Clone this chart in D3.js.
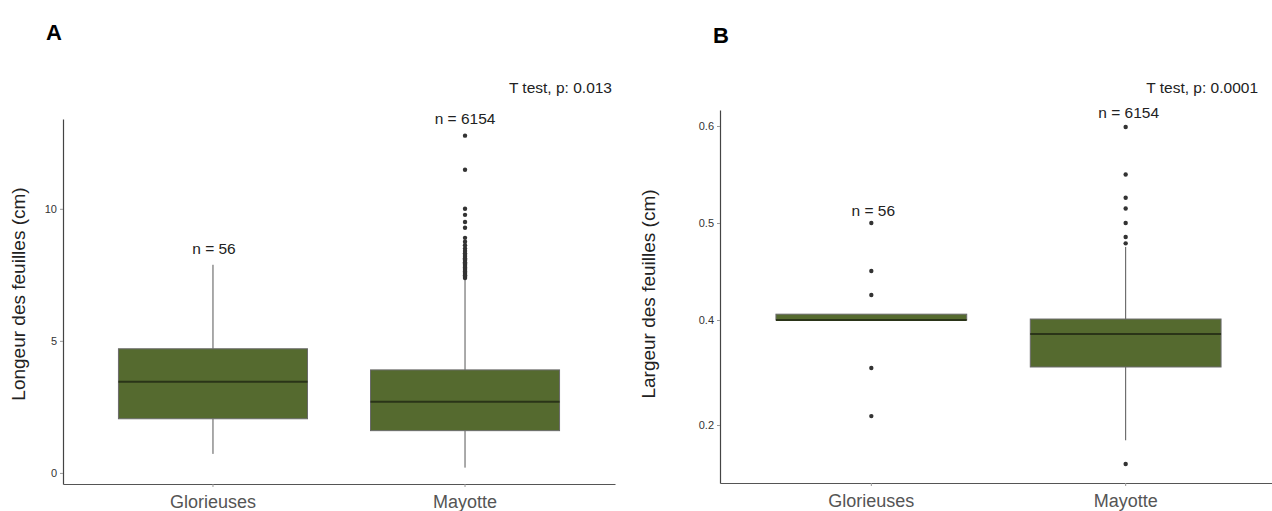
<!DOCTYPE html>
<html><head><meta charset="utf-8">
<script src="https://cdn.jsdelivr.net/npm/d3@7"></script>
<style>body{margin:0;background:#fff}svg{display:block}text{font-family:"Liberation Sans",Arial,sans-serif}</style>
</head><body><svg id="c" width="1272" height="511"></svg>
<script>
// ---- Data ----
const categories = ["Glorieuses", "Mayotte"];
// Panel A : longueur (cm)  [lowerWhisker, q1, median, q3, upperWhisker]
const lengthStats = [[0.72, 2.05, 3.45, 4.70, 7.88], [0.20, 1.60, 2.69, 3.90, 7.32]];
const lengthOutliersGlorieuses = [];
const lengthOutliersMayotte = [7.38, 7.43, 7.48, 7.53, 7.58, 7.63, 7.68, 7.73, 7.78, 7.83, 7.88, 7.93, 7.98, 8.03, 8.08, 8.13, 8.18, 8.25, 8.32, 8.40, 8.50, 8.62, 8.75, 8.90, 9.28, 9.50, 9.77, 10.0, 11.48, 12.77];
const lengthCounts = ["n = 56", "n = 6154"];
const lengthTicks = [0, 5, 10];
const lengthTest = "T test, p: 0.013";
// Panel B : largeur (cm)
const widthStats = [[0.400, 0.400, 0.400, 0.406, 0.406], [0.171, 0.3105, 0.3733, 0.401, 0.4753]];
const widthOutliersGlorieuses = [0.500, 0.4505, 0.4258, 0.3086, 0.217];
const widthOutliersMayotte = [0.599, 0.550, 0.526, 0.515, 0.500, 0.4856, 0.479, 0.126];
const widthCounts = ["n = 56", "n = 6154"];
const widthTicks = [0.2, 0.4, 0.5, 0.6];
const widthTest = "T test, p: 0.0001";

const svg = d3.select("#c");
const FILL = "#556a2f";

function panel(cfg) {
  const g = svg.append("g");
  const x = d3.scaleBand().domain(categories).range(cfg.xr).paddingInner(0.25).paddingOuter(0.22);
  const y = cfg.y;
  // axes
  const ya = g.append("g").attr("transform", `translate(${cfg.xr[0]},0)`)
    .call(d3.axisLeft(y).tickValues(cfg.ticks).tickSize(3).tickSizeOuter(0).tickFormat(cfg.fmt));
  ya.select(".domain").attr("stroke", "#444").attr("stroke-width", 1.2);
  ya.selectAll(".tick line").attr("stroke", "#999");
  ya.selectAll(".tick text").attr("font-size", 11).attr("fill", "#333").attr("font-family", "Liberation Sans, Arial, sans-serif");
  const xa = g.append("g").attr("transform", `translate(0,${cfg.y0})`)
    .call(d3.axisBottom(x).tickSize(3).tickSizeOuter(0));
  xa.select(".domain").attr("stroke", "#555").attr("stroke-width", 1.2);
  xa.selectAll(".tick line").attr("stroke", "#999");
  xa.selectAll(".tick text").attr("font-size", 18).attr("fill", "#555").attr("y", 10).attr("dy", "0.8em")
    .attr("font-family", "Liberation Sans, Arial, sans-serif");
  // boxes
  const bw = x.bandwidth();
  cfg.stats.forEach((s, i) => {
    const cx = x(categories[i]) + bw / 2;
    g.append("line").attr("x1", cx).attr("x2", cx).attr("y1", y(s[4])).attr("y2", y(s[3])).attr("stroke", "#555").attr("stroke-width", 1);
    g.append("line").attr("x1", cx).attr("x2", cx).attr("y1", y(s[1])).attr("y2", y(s[0])).attr("stroke", "#555").attr("stroke-width", 1);
    g.append("rect").attr("x", x(categories[i])).attr("width", bw)
      .attr("y", y(s[3])).attr("height", Math.max(1, y(s[1]) - y(s[3])))
      .attr("fill", FILL).attr("stroke", "#6a6a6a").attr("stroke-width", 1);
    g.append("line").attr("x1", x(categories[i])).attr("x2", x(categories[i]) + bw)
      .attr("y1", y(s[2])).attr("y2", y(s[2])).attr("stroke", "#2a3418").attr("stroke-width", 2);
    g.selectAll(null).data(cfg.outliers[i]).join("circle")
      .attr("cx", cx).attr("cy", d => y(d)).attr("r", 2.2).attr("fill", "#333");
    g.append("text").attr("x", cx + cfg.nOff[i][0]).attr("y", cfg.nY[i]).attr("text-anchor", "middle")
      .attr("font-size", 15.5).attr("fill", "#222").text(cfg.counts[i]);
  });
  g.append("text").attr("x", cfg.testX).attr("y", cfg.testY).attr("text-anchor", "end")
    .attr("font-size", 15.5).attr("fill", "#222").text(cfg.test);
  g.append("text").attr("transform", `translate(${cfg.titleX},${cfg.titleY}) rotate(-90)`)
    .attr("text-anchor", "middle").attr("font-size", 19).attr("fill", "#222").text(cfg.title);
  g.append("text").attr("x", cfg.lab[0]).attr("y", cfg.lab[1]).attr("font-size", 22)
    .attr("font-weight", "bold").attr("fill", "#000").text(cfg.label);
}

panel({
  xr: [63, 615], y0: 484,
  y: d3.scaleLinear().domain([-0.42, 13.4]).range([484, 119]),
  ticks: lengthTicks, fmt: d3.format("d"),
  stats: lengthStats, outliers: [lengthOutliersGlorieuses, lengthOutliersMayotte],
  counts: lengthCounts, nY: [254, 124], nOff: [[1, 0], [0, 0]],
  test: lengthTest, testX: 612, testY: 93,
  title: "Longeur des feuilles (cm)", titleX: 25, titleY: 294,
  label: "A", lab: [46, 40]
});
panel({
  xr: [720, 1277], y0: 483,
  y: d3.scaleLinear().domain([0.09, 0.2, 0.4, 0.6, 0.6165]).range([483, 425, 320, 126, 110]),
  ticks: widthTicks, fmt: d3.format(".1f"),
  stats: widthStats, outliers: [widthOutliersGlorieuses, widthOutliersMayotte],
  counts: widthCounts, nY: [216, 118], nOff: [[2, 0], [3, 0]],
  test: widthTest, testX: 1258, testY: 93,
  title: "Largeur des feuilles (cm)", titleX: 655, titleY: 294,
  label: "B", lab: [713, 43]
});
</script></body></html>
